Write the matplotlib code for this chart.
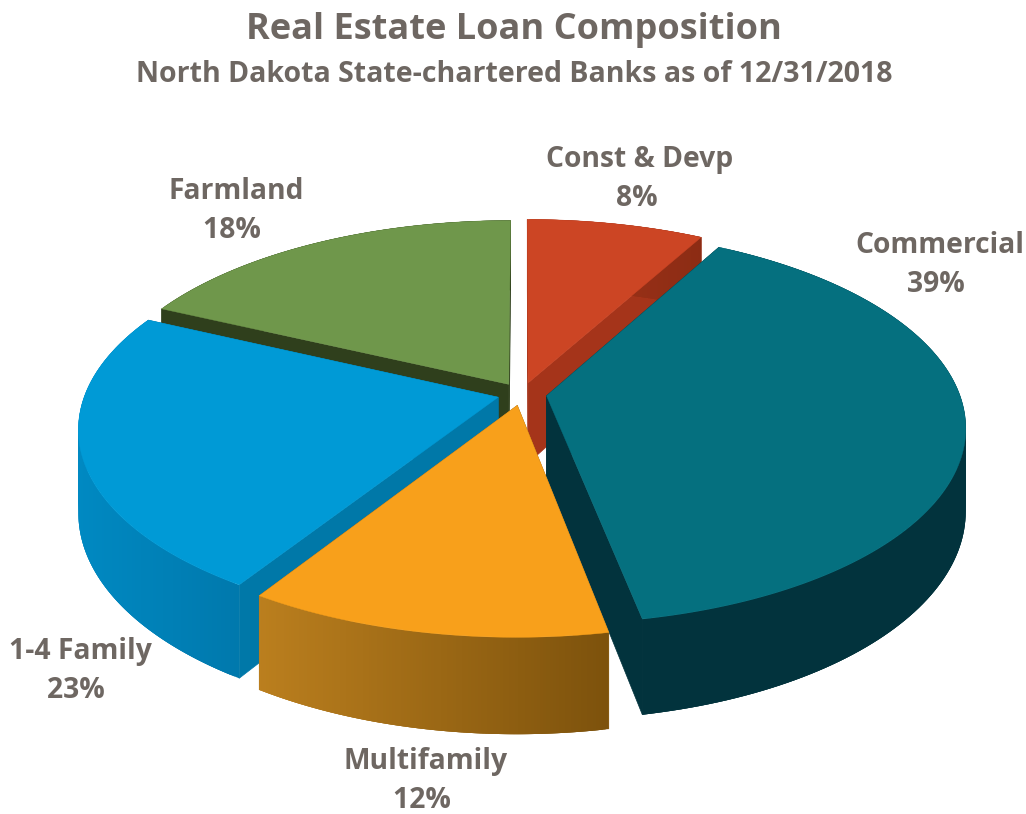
import numpy as np
import matplotlib
matplotlib.use("Agg")
import matplotlib.pyplot as plt

labels = ["Const & Devp", "Commercial", "Multifamily", "1-4 Family", "Farmland"]
shares = [8, 39, 12, 23, 18]

# top face, radial wall, outer wall left/right shade
top_colors = ["#cc4524", "#05707f", "#f8a01b", "#009ad6", "#6f974b"]
side_colors = ["#a5341a", "#02333d", "#9a6512", "#0078a8", "#2f3f1c"]
wall_left = ["#a5341a", "#02333d", "#bb7f1e", "#0089c2", "#2f3f1c"]
wall_right = ["#8c2c14", "#02333d", "#7d520c", "#0079ad", "#2f3f1c"]

label_pos = [(640, 179), (940, 265), (426, 781), (80, 671), (236, 211)]
text_color = "#6e6762"

# perspective of the disc
cx, cy = 522, 394
R = 413
squash = 0.465
k = 0.155
depth = 81
explode = 0.06


def project(u, v, z=0.0):
    w = 1 + k * v
    return cx + R * u / w, cy - R * squash * v / w + z / w


fig = plt.figure(figsize=(10.26, 8.14), dpi=100)
ax = fig.add_axes([0, 0, 1, 1])
ax.set_xlim(0, 1026)
ax.set_ylim(814, 0)
ax.axis("off")

edges = np.cumsum([0] + shares) / sum(shares) * 2 * np.pi

# back slices first so the front ones cover them
for i in [4, 0, 3, 1, 2]:
    a0, a1 = edges[i], edges[i + 1]
    mid = (a0 + a1) / 2
    ou, ov = explode * np.sin(mid), explode * np.cos(mid)
    t = np.linspace(a0, a1, 120)
    us = ou + np.sin(t)
    vs = ov + np.cos(t)

    # radial walls
    for a in (a0, a1):
        eu, ev = ou + np.sin(a), ov + np.cos(a)
        xs, ys = zip(project(ou, ov), project(eu, ev), project(eu, ev, depth), project(ou, ov, depth))
        ax.fill(xs, ys, color=side_colors[i], lw=0.5)

    # outer wall, shaded left to right; strips overlap so no seams show
    c0 = np.array(matplotlib.colors.to_rgb(wall_left[i]))
    c1 = np.array(matplotlib.colors.to_rgb(wall_right[i]))
    tx, ty = project(us, vs)
    bx, by = project(us, vs, depth)
    for j in range(len(t) - 1):
        f = (tx[j] - tx.min()) / (tx.max() - tx.min())
        col = c0 + (c1 - c0) * f
        n = min(j + 3, len(t) - 1)
        ax.fill([tx[j], tx[n], bx[n], bx[j]], [ty[j], ty[n], by[n], by[j]], color=col, lw=0)

    # top face
    ox, oy = project(ou, ov)
    ax.fill(np.r_[ox, tx], np.r_[oy, ty], color=top_colors[i], lw=0.3)

# trailing space pulls the percent a little left of the name, like the original
for name, val, (x, y) in zip(labels, shares, label_pos):
    ax.text(x, y, "{}\n{}% ".format(name, val), ha="center", va="center", color=text_color,
            family="Open Sans", weight="bold", fontsize=20.3, linespacing=1.45)

ax.text(514, 30, "Real Estate Loan Composition", ha="center", va="center", color=text_color,
        family="Open Sans", weight="bold", fontsize=26)
ax.text(514, 74, "North Dakota State-chartered Banks as of 12/31/2018", ha="center", va="center",
        color=text_color, family="Open Sans", weight="bold", fontsize=20.5)

fig.savefig("out.png", dpi=100)
